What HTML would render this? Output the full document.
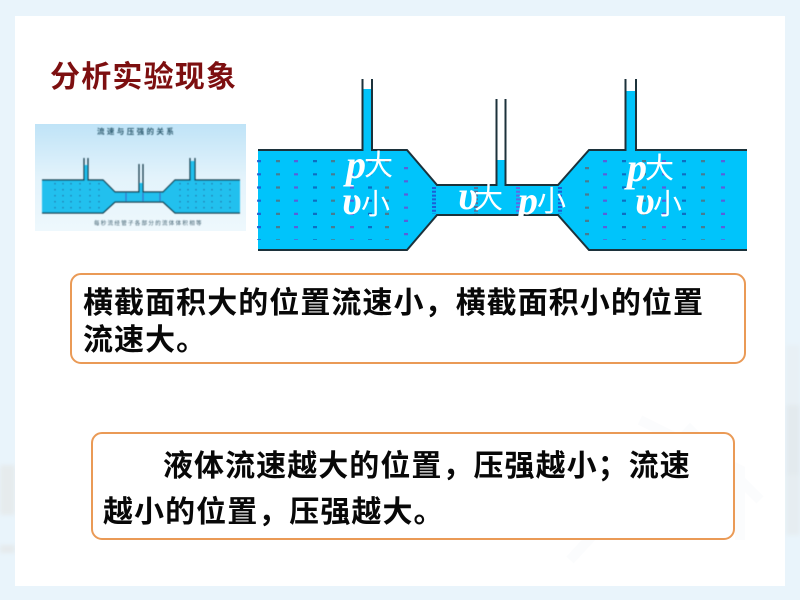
<!DOCTYPE html>
<html lang="zh">
<head>
<meta charset="utf-8">
<style>
html,body{margin:0;padding:0;width:800px;height:600px;overflow:hidden;background:#fff}
svg{position:absolute;left:0;top:0;display:block}
.cn{font-family:"Liberation Sans","Noto Sans CJK SC",sans-serif}
.b{font-weight:700;font-size:30px;letter-spacing:1.05px;fill:#080808}
.w{font-family:"Liberation Sans","Noto Sans CJK SC",sans-serif;font-size:29px;fill:#fff}
.i{font-family:"Liberation Serif",serif;font-style:italic;font-weight:700;font-size:40px;fill:#fff}
</style>
</head>
<body>
<svg width="800" height="600" viewBox="0 0 800 600" xmlns="http://www.w3.org/2000/svg">
<defs>
<linearGradient id="th" x1="0" y1="0" x2="0" y2="1">
<stop offset="0" stop-color="#bfe3f7"/><stop offset=".5" stop-color="#e3f3fb"/><stop offset="1" stop-color="#eef8fd"/>
</linearGradient>
<filter id="bl"><feGaussianBlur stdDeviation=".45"/></filter>
<filter id="bl2"><feGaussianBlur stdDeviation=".3"/></filter>
<filter id="bl3"><feGaussianBlur stdDeviation="2"/></filter>
</defs>

<rect width="800" height="600" fill="#e9f4fb"/>
<g filter="url(#bl3)">
<rect x="0" y="465" width="15" height="50" fill="#e6ebed"/>
<rect x="0" y="545" width="15" height="8" fill="#e5eaec"/>
<rect x="786" y="345" width="14" height="60" fill="#e8f0f5"/>
<rect x="786" y="405" width="14" height="70" fill="#e3eaee"/>
<rect x="786" y="475" width="14" height="60" fill="#e6edf1"/>
</g>
<rect x="15" y="16" width="770" height="570" fill="#fff"/>
<g fill="none" stroke="#fbfcfd" stroke-width="10">
<path d="M570 560L690 430L760 500M640 420L740 470V540"/>
</g>

<text class="cn" x="50" y="87" font-size="30" font-weight="700" letter-spacing="1.2" fill="#7d0f10">分析实验现象</text>

<!-- thumbnail -->
<rect x="35" y="124" width="211" height="107" fill="url(#th)"/>
<g filter="url(#bl)">
<path d="M42 180H103L115 192H163L175 180H240V213H175L163 202H115L103 213H42Z" fill="#22c0ee"/>
<rect x="84" y="165" width="4" height="15" fill="#22c0ee"/>
<rect x="139" y="183" width="4" height="10" fill="#22c0ee"/>
<rect x="190" y="161" width="5" height="19" fill="#22c0ee"/>
<g fill="none" stroke="#0d3240" stroke-width="1.2">
<path d="M42 180H84V158M88 158V180H103L115 192H139V164M143 164V192H163L175 180H190V158M195 158V180H240"/>
<path d="M42 213H103L115 202H163L175 213H240"/>
</g>
<g stroke="#3a63c8" stroke-width="1.2"><path d="M126 193V201M143 193V201M160 193V201"/></g>
<g stroke="#235f99" stroke-width="1.2" stroke-dasharray="1.4 4.6"><path d="M55 183V212M63 183V212M71 183V212M80 183V212M90 183V212M99 183V212M180 183V212M188 183V212M196 183V212M204 183V212M212 183V212M221 183V212M230 183V212"/></g>
<text class="cn" x="97" y="134" font-size="7.500" font-weight="700" letter-spacing="2.4" fill="#2f5c70">流速与压强的关系</text>
<text class="cn" x="94" y="225" font-size="5.500" letter-spacing="1.3" fill="#3b5b6b">每秒流经管子各部分的流体体积相等</text>
</g>

<!-- main pipe -->
<g filter="url(#bl2)">
<path d="M258 150H407L437 185H558L589 150H747V250H589L558 215H437L407 250H258Z" fill="#00c4fb"/>
<rect x="363" y="89" width="9" height="62" fill="#00c4fb"/>
<rect x="497" y="160" width="9" height="26" fill="#00c4fb"/>
<rect x="626" y="91" width="10" height="60" fill="#00c4fb"/>
<g fill="none" stroke-width="4" stroke-dasharray="2.200 11" opacity=".9">
<path stroke="#1f5fd0" d="M259 160V240"/>
<path stroke="#4f7486" d="M278 160V240"/>
<path stroke="#6256d8" d="M296 160V240"/>
<path stroke="#1065bc" d="M315 160V240"/>
<path stroke="#4f7486" d="M333 160V240"/>
<path stroke="#6256d8" d="M352 160V240"/>
<path stroke="#1065bc" d="M370 160V240"/>
<path stroke="#4f7486" d="M387 160V240"/>
<path stroke="#6256d8" d="M406 167V236"/>
<path stroke="#4f7486" d="M587 167V236"/>
<path stroke="#6256d8" d="M605 160V240"/>
<path stroke="#1065bc" d="M624 160V240"/>
<path stroke="#4f7486" d="M644 160V240"/>
<path stroke="#6256d8" d="M664 160V240"/>
<path stroke="#1065bc" d="M684 160V240"/>
<path stroke="#4f7486" d="M703 160V240"/>
<path stroke="#6256d8" d="M723 160V240"/>
</g>
<g fill="none" stroke-width="4" stroke-dasharray="2 1.800" opacity=".85">
<path stroke="#1f50d0" d="M434 187V214"/>
<path stroke="#5f6490" d="M476 187V214"/>
<path stroke="#6e58e0" d="M518 187V214"/>
<path stroke="#1f50d0" d="M560 187V214"/>
</g>
<g fill="none" stroke="#1c303a" stroke-width="2">
<path d="M258 150H362.500V79M372 79V150H407L437 185H496.500V99M505.500 99V185H558L589 150H625.500V79M636 79V150H747"/>
<path d="M258 250H407L437 215H558L589 250H747"/>
</g>
</g>

<text class="i" x="346" y="178">p</text><text class="w" x="364" y="175">大</text>
<text class="i" x="342" y="214">υ</text><text class="w" x="361" y="214">小</text>
<text class="i" x="458" y="209">υ</text><text class="w" x="474" y="208">大</text>
<text class="i" x="518" y="214">p</text><text class="w" x="537" y="211">小</text>
<text class="i" x="627" y="181">p</text><text class="w" x="645" y="178">大</text>
<text class="i" x="635" y="214">υ</text><text class="w" x="653" y="214">小</text>

<!-- boxes -->
<rect x="71" y="274" width="674" height="89" rx="10" fill="#fff" stroke="#ea9a56" stroke-width="2"/>
<rect x="92" y="433" width="642" height="106" rx="10" fill="#fff" stroke="#ea9a56" stroke-width="2"/>
<text class="cn b" x="83" y="313">横截面积大的位置流速小，横截面积小的位置</text>
<text class="cn b" x="83" y="350">流速大。</text>
<text class="cn b" x="163" y="476">液体流速越大的位置，压强越小；流速</text>
<text class="cn b" x="103" y="522">越小的位置，压强越大。</text>
</svg>
</body>
</html>
